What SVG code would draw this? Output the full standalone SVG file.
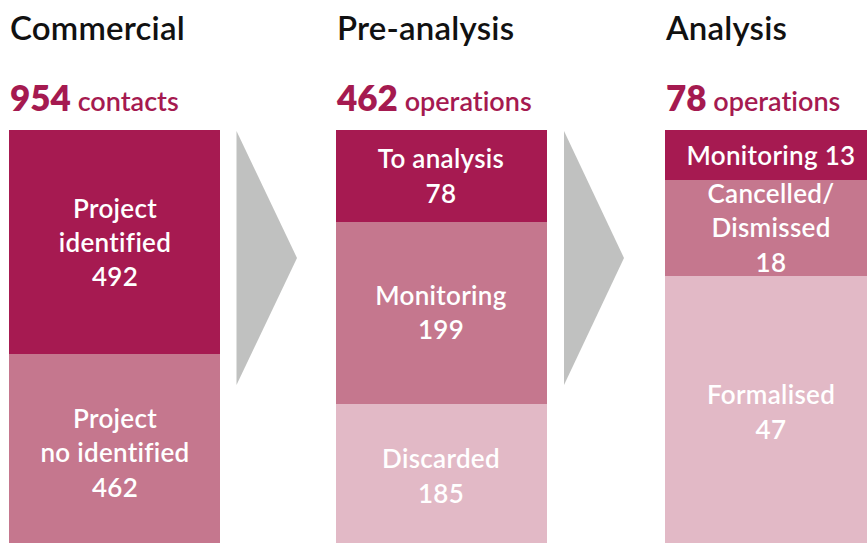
<svg xmlns="http://www.w3.org/2000/svg" width="867" height="543" viewBox="0 0 867 543">
  <style>
    text { font-family: Lato, "Open Sans", "Liberation Sans", sans-serif; font-variant-ligatures: none; }
    .title { font-size: 33px; font-weight: 600; fill: #111; letter-spacing: 0.2px; }
    .num { font-size: 35px; font-weight: 800; fill: #a51a50; }
    .unit { font-size: 27px; font-weight: 600; fill: #a51a50; }
    .lbl { font-size: 26px; font-weight: 600; fill: #fff; text-anchor: middle; letter-spacing: 0.3px; }
    .dark { fill: #a61a51; }
    .mid { fill: #c5778e; }
    .light { fill: #e2b9c6; }
    .arrow { fill: #c0c1c0; }
  </style>

  <!-- Column headings -->
  <g id="heading-commercial">
    <text class="title" x="10" y="40">Commercial</text>
    <text x="10" y="111"><tspan class="num">954</tspan><tspan class="unit"> contacts</tspan></text>
  </g>
  <g id="heading-preanalysis">
    <text class="title" x="337" y="40">Pre-analysis</text>
    <text x="337" y="111"><tspan class="num">462</tspan><tspan class="unit"> operations</tspan></text>
  </g>
  <g id="heading-analysis">
    <text class="title" x="666" y="40">Analysis</text>
    <text x="666" y="111"><tspan class="num">78</tspan><tspan class="unit"> operations</tspan></text>
  </g>

  <!-- Commercial column -->
  <g id="project-identified">
    <rect class="dark" x="9" y="130" width="211" height="224"/>
    <text class="lbl" x="115" y="218">Project</text>
    <text class="lbl" x="115" y="252">identified</text>
    <text class="lbl" x="115" y="286">492</text>
  </g>
  <g id="project-no-identified">
    <rect class="mid" x="9" y="354" width="211" height="189"/>
    <text class="lbl" x="115" y="428">Project</text>
    <text class="lbl" x="115" y="462">no identified</text>
    <text class="lbl" x="115" y="497">462</text>
  </g>

  <!-- Pre-analysis column -->
  <g id="to-analysis">
    <rect class="dark" x="336" y="130" width="211" height="92"/>
    <text class="lbl" x="441" y="168">To analysis</text>
    <text class="lbl" x="441" y="203">78</text>
  </g>
  <g id="monitoring-pre">
    <rect class="mid" x="336" y="222" width="211" height="182"/>
    <text class="lbl" x="441" y="305">Monitoring</text>
    <text class="lbl" x="441" y="339">199</text>
  </g>
  <g id="discarded">
    <rect class="light" x="336" y="404" width="211" height="139"/>
    <text class="lbl" x="441" y="468">Discarded</text>
    <text class="lbl" x="441" y="503">185</text>
  </g>

  <!-- Analysis column -->
  <g id="monitoring-analysis">
    <rect class="dark" x="665" y="130" width="202" height="50"/>
    <text class="lbl" x="771" y="165">Monitoring 13</text>
  </g>
  <g id="cancelled">
    <rect class="mid" x="665" y="180" width="202" height="96"/>
    <text class="lbl" x="771" y="203">Cancelled/</text>
    <text class="lbl" x="771" y="237">Dismissed</text>
    <text class="lbl" x="771" y="272">18</text>
  </g>
  <g id="formalised">
    <rect class="light" x="665" y="276" width="202" height="267"/>
    <text class="lbl" x="771" y="404">Formalised</text>
    <text class="lbl" x="771" y="439">47</text>
  </g>

  <!-- Flow chevrons between stages -->
  <g id="connectors">
    <polygon class="arrow" points="236.5,131 297,258 236.5,385"/>
    <polygon class="arrow" points="564,131 624,258 564,385"/>
  </g>
</svg>
